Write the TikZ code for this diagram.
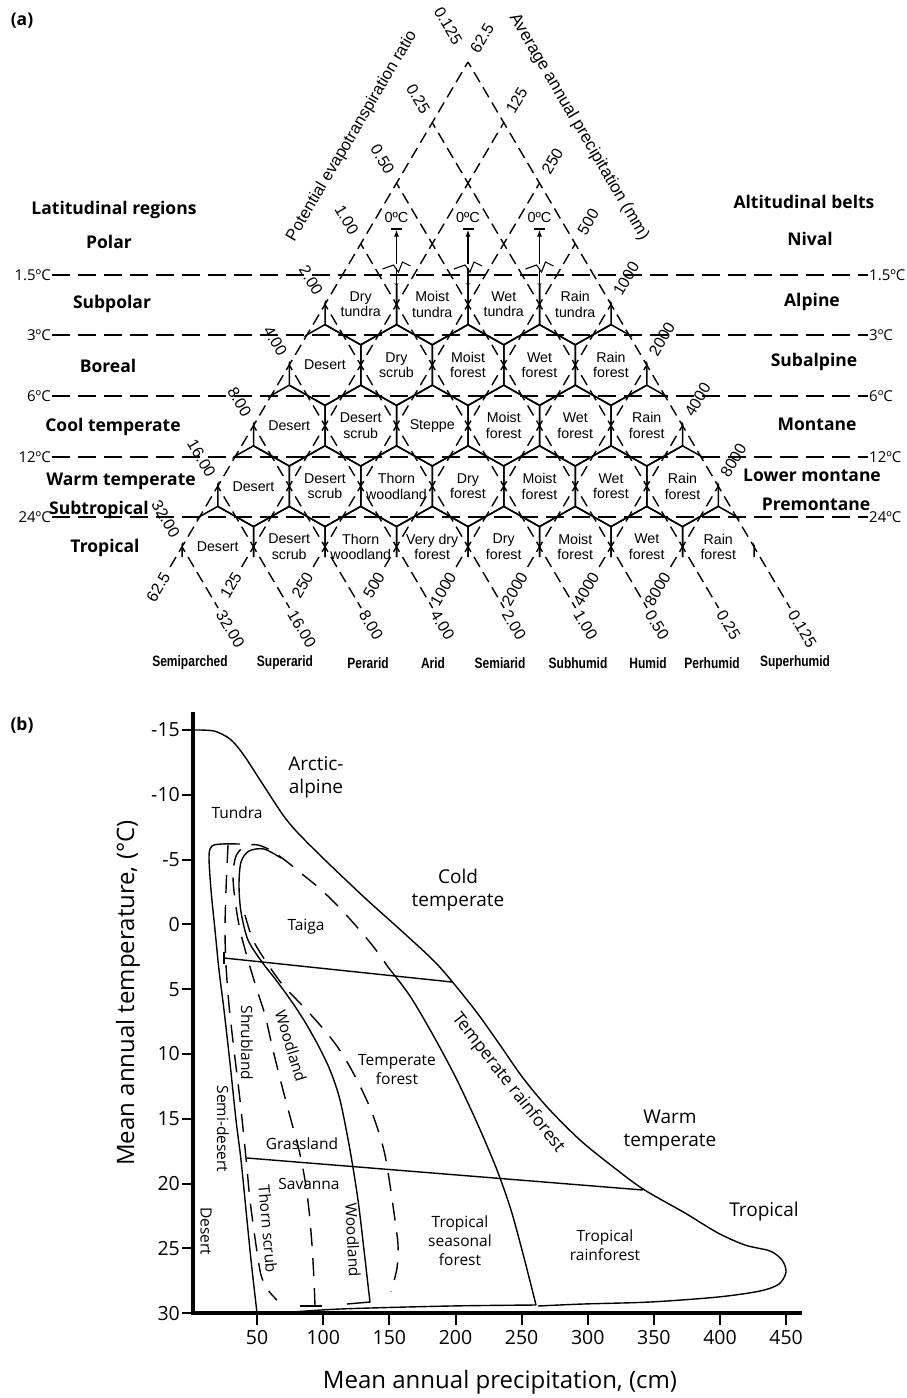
\documentclass[tikz,border=0pt]{standalone}
\usepackage{fontspec}
\setmainfont{Liberation Sans}
\newfontfamily\osans{Open Sans}
\newfontfamily\narrowb{Liberation Sans}[FakeStretch=0.8]
\usetikzlibrary{arrows.meta}
\newcommand\HexLab[3]{\node[hexlab] (hx-#1-#2) at ({468-(3+#1)*35.75+71.5*#2},{62+60.6*(4+#1)}) {#3};}
\begin{document}
\begin{tikzpicture}[x=1pt,y=-1pt,
  hexlab/.style={font=\fontsize{14.2}{15.5}\selectfont, align=center, inner sep=0pt},
  gridln/.style={line width=1.4pt, dash pattern=on 11.59pt off 6pt, dash phase=5.8pt},
  hline/.style={line width=1.9pt, dash pattern=on 18pt off 8pt},
  hexe/.style={line width=1.5pt},
  edgelab/.style={font=\fontsize{16}{17}\selectfont, inner sep=1pt},
  zlab/.style={font=\fontsize{14.5}{15}\selectfont, inner sep=1pt},
  tlab/.style={font=\osans\fontsize{15}{16}\selectfont, inner sep=1pt},
  reglab/.style={font=\osans\bfseries\fontsize{17.5}{18}\selectfont, inner sep=0pt},
  botlab/.style={font=\narrowb\bfseries\fontsize{15}{16}\selectfont, inner sep=0pt},
  curve/.style={line width=1.4pt},
  dcurve/.style={line width=1.4pt, dash pattern=on 18pt off 12pt},
  blab/.style={font=\osans\fontsize{15.5}{19}\selectfont, align=center, inner sep=0pt},
  biglab/.style={font=\osans\fontsize{19}{23}\selectfont, align=center, inner sep=0pt},
  ticklab/.style={font=\osans\fontsize{19.5}{20}\selectfont, inner sep=0pt},
  axtitle/.style={font=\osans\fontsize{24}{26}\selectfont, inner sep=0pt},
]
\useasboundingbox (0,0) rectangle (906,1398);

%% ================= PANEL (a) =================
\node[reglab] (pa) at (22,21) {(a)};

% hexagons (clipped to triangle)
\begin{scope}
\clip (335.6,283.5) -- (600.4,283.5) -- (762,557) -- (174,557) -- cycle;
\foreach \i in {0,...,4}{
  \pgfmathtruncatemacro\n{3+\i}
  \foreach \k in {0,...,\n}{
    \pgfmathsetmacro\cx{468-(3+\i)*35.75+71.5*\k}
    \pgfmathsetmacro\cy{62+60.6*(4+\i)}
    \draw[hexe] (\cx,\cy-40.4) -- (\cx+35.75,\cy-20.2) -- (\cx+35.75,\cy+20.2) -- (\cx,\cy+40.4) -- (\cx-35.75,\cy+20.2) -- (\cx-35.75,\cy-20.2) -- cycle;
  }
}
\end{scope}

% PET lines (down-right) with labels
\foreach \r/\v in {0/0.125,1/0.25,2/0.50,3/1.00,4/2.00,5/4.00,6/8.00,7/16.00,8/32.00}{
  \pgfmathsetmacro\xs{468-35.75*\r}
  \pgfmathsetmacro\ys{62+60.6*\r}
  \pgfmathsetmacro\xe{\xs+(608-\ys)/60.6*35.75}
  \coordinate (P\r) at (\xs,\ys);
  \coordinate (PE\r) at (\xe,608);
  \draw[gridln] (P\r) -- (PE\r);
  \node[edgelab, rotate=-59.5, anchor=west] (pb\r) at ([shift={(1.5,2.6)}]PE\r) {\v};
}
\foreach \r/\v in {1/0.25,2/0.50,3/1.00,4/2.00,5/4.00,6/8.00,7/16.00,8/32.00}{
  \node[edgelab, rotate=-59.5, anchor=east] (pl\r) at ([shift={(-5.5,-9.5)}]P\r) {\v};
}
\node[edgelab, rotate=-59.5, anchor=east] (pl0) at (459,44) {0.125};

% precipitation lines (down-left) with labels
\foreach \r/\v in {0/62.5,1/125,2/250,3/500,4/1000,5/2000,6/4000,7/8000}{
  \pgfmathsetmacro\xs{468+35.75*\r}
  \pgfmathsetmacro\ys{62+60.6*\r}
  \pgfmathsetmacro\xe{\xs-(570-\ys)/60.6*35.75}
  \coordinate (Q\r) at (\xs,\ys);
  \coordinate (QE\r) at (\xe,570);
  \draw[gridln] (Q\r) -- (QE\r);
  \node[edgelab, rotate=59.5, anchor=east] (qb\r) at ([shift={(-1.5,2.6)}]QE\r) {\v};
  \node[edgelab, rotate=59.5, anchor=west] (qr\r) at ([shift={(5.5,-9.5)}]Q\r) {\v};
}

% axis titles of the triangle
\node[font=\fontsize{16.5}{17}\selectfont, rotate=59.5] (pet) at (352,136) {Potential evapotranspiration ratio};
\node[font=\fontsize{17}{18}\selectfont, rotate=-59.5] (aap) at (579,127) {Average annual precipitation (mm)};

% 0 C arrows
\foreach \x [count=\j] in {396.5,468,539.5}{
  \draw[hexe] (\x,285) -- (\x,268);
  \draw[hexe,-{Latex[length=7pt,width=5pt]}] (\x,264) -- (\x,229.5);
  \draw[hexe] (\x-5.5,229) -- (\x+5.5,229);
  \draw[line width=1.1pt] (\x-14,269) -- (\x-3,265) -- (\x+2,272) -- (\x+6,262) -- (\x+14,266);
  \node[zlab] (zc\j) at (\x,217) {0ºC};
}

% horizontal temperature lines
\foreach \y/\t [count=\j] in {275/1.5,335/3,396/6,457/12,517/24}{
  \coordinate (HL\j) at (52,\y);
  \coordinate (HR\j) at (868,\y);
  \draw[hline] (HL\j) -- (HR\j);
  \node[tlab, anchor=east] (tl\j) at (HL\j) {\t ºC};
  \node[tlab, anchor=west] (tr\j) at (HR\j) {\t ºC};
}

% hexagon labels
\HexLab{0}{0}{Dry\\tundra}\HexLab{0}{1}{Moist\\tundra}\HexLab{0}{2}{Wet\\tundra}\HexLab{0}{3}{Rain\\tundra}
\HexLab{1}{0}{Desert}\HexLab{1}{1}{Dry\\scrub}\HexLab{1}{2}{Moist\\forest}\HexLab{1}{3}{Wet\\forest}\HexLab{1}{4}{Rain\\forest}
\HexLab{2}{0}{Desert}\HexLab{2}{1}{Desert\\scrub}\HexLab{2}{2}{Steppe}\HexLab{2}{3}{Moist\\forest}\HexLab{2}{4}{Wet\\forest}\HexLab{2}{5}{Rain\\forest}
\HexLab{3}{0}{Desert}\HexLab{3}{1}{Desert\\scrub}\HexLab{3}{2}{Thorn\\woodland}\HexLab{3}{3}{Dry\\forest}\HexLab{3}{4}{Moist\\forest}\HexLab{3}{5}{Wet\\forest}\HexLab{3}{6}{Rain\\forest}
\HexLab{4}{0}{Desert}\HexLab{4}{1}{Desert\\scrub}\HexLab{4}{2}{Thorn\\woodland}\HexLab{4}{3}{Very dry\\forest}\HexLab{4}{4}{Dry\\forest}\HexLab{4}{5}{Moist\\forest}\HexLab{4}{6}{Wet\\forest}\HexLab{4}{7}{Rain\\forest}

% region labels
\node[reglab] (lr) at (114,210) {Latitudinal regions};
\node[reglab] (l1) at (109,242) {Polar};
\node[reglab] (l2) at (112,304) {Subpolar};
\node[reglab] (l3) at (108,366) {Boreal};
\node[reglab] (l4) at (113,427) {Cool temperate};
\node[reglab] (l5) at (121,481) {Warm temperate};
\node[reglab] (l6) at (99,510) {Subtropical};
\node[reglab] (l7) at (105,548) {Tropical};
\node[reglab] (ab) at (804,202) {Altitudinal belts};
\node[reglab] (r1) at (810,239) {Nival};
\node[reglab] (r2) at (812,302) {Alpine};
\node[reglab] (r3) at (814,362) {Subalpine};
\node[reglab] (r4) at (817,424) {Montane};
\node[reglab] (r5) at (812,475) {Lower montane};
\node[reglab] (r6) at (816,504) {Premontane};

% humidity provinces
\foreach \x/\t [count=\j] in {190/Semiparched,285/Superarid,368/Perarid,433/Arid,500/Semiarid,578/Subhumid,648/Humid,712/Perhumid,795/Superhumid}{
  \node[botlab] (hp\j) at (\x,663) {\t};
}

%% ================= PANEL (b) =================
\node[reglab] (pbl) at (22,725) {(b)};

% axes
\draw[line width=3.2pt] (193,712) -- (193,1313) -- (802,1313);
\foreach \t in {-15,-10,...,30}{
  \pgfmathsetmacro\yy{730+(\t+15)*12.96}
  \draw[line width=2pt] (182,\yy) -- (193,\yy);
  \node[ticklab, anchor=east] at (180,\yy) {\t};
}
\foreach \p in {50,100,...,450}{
  \pgfmathsetmacro\xx{191+1.3225*\p}
  \draw[line width=2pt] (\xx,1313) -- (\xx,1325);
  \node[ticklab, anchor=north] at (\xx,1330) {\p};
}
\node[axtitle, rotate=90] (ytitle) at (128,993) {Mean annual temperature, (°C)};
\node[axtitle] (xtitle) at (500,1382) {Mean annual precipitation, (cm)};

% outer boundary
\draw[curve] plot[smooth,tension=0.5] coordinates {(193,730) (214,731) (230,739) (243,754) (262,783) (283,815) (298,833) (325,860) (365,898) (405,934) (435,962) (455,985) (478,1014) (500,1045) (523,1078) (548,1108) (580,1140) (612,1166) (643,1189) (685,1213) (718,1233) (745,1245) (770,1251) (782,1260) (786,1272) (779,1284) (760,1291) (718,1297) (650,1302) (583,1304) (538,1306)};
\draw[curve] plot[smooth] coordinates {(536,1305) (450,1306) (340,1309) (280,1313)};

% cross lines
\draw[curve] (224,958) -- (452,982);
\draw[curve] (247,1158) -- (643,1190);
\draw[curve] (224,952) -- (224,964);

% solid L1 (desert edge)
\draw[curve] plot[smooth,tension=0.5] coordinates {(240,844) (222,844) (212,846) (209,856) (211,890) (215,930) (219,970) (224,1010) (230,1063) (236,1120) (241,1160) (246,1210) (251,1260) (257,1313)};
% solid L2 (woodland edge)
\draw[curve] plot[smooth,tension=0.5] coordinates {(281,858) (264,849) (249,851) (241,862) (239,885) (241,912) (248,940) (262,962) (276,980) (292,1002) (305,1022) (318,1045) (330,1070) (340,1100) (350,1150) (358,1200) (364,1250) (368,1285) (370,1302)} -- (347,1304);
% solid L3 (tropical seasonal / rainforest)
\draw[curve] plot[smooth,tension=0.5] coordinates {(388,967) (410,996) (433,1035) (456,1078) (478,1125) (497,1170) (511,1210) (522,1250) (531,1285) (536,1305)};

% dashed DA (parallel to L1)
\draw[dcurve] plot[smooth,tension=0.5] coordinates {(228,845) (226,890) (225,930) (226,965) (229,1005) (234,1050) (240,1100) (246,1158) (250,1200) (256,1245) (261,1275) (268,1290) (277,1300)};
% dashed DD + hook + DC
\draw[dcurve] plot[smooth,tension=0.5] coordinates {(315,1306) (314,1280) (312,1245) (309,1210) (305,1180) (299,1150) (291,1120) (283,1090) (273,1050) (265,1015) (257,990) (248,960) (240,930) (235,900) (233,875) (236,856) (245,846) (258,845) (272,851) (286,861) (302,874) (318,887) (334,902) (349,918) (363,934) (376,950) (388,967)};
\draw[curve] (300,1306) -- (322,1306);
% dashed DB (temperate forest edge)
\draw[dcurve] plot[smooth,tension=0.5] coordinates {(245,915) (253,940) (267,963) (282,984) (297,1000) (312,1016) (326,1032) (339,1049) (350,1067) (361,1088) (371,1110) (379,1133) (385,1155) (390,1185) (395,1220) (398,1245) (397,1268) (391,1292)};

% labels
\node[biglab] (arc) at (316,777) {Arctic-\\alpine};
\node[blab] (tun) at (237,813) {Tundra};
\node[biglab] (cold) at (458,890) {Cold\\temperate};
\node[blab] (tai) at (306,927) {Taiga};
\node[blab, rotate=-90] (shr) at (247,1043) {Shrubland};
\node[blab, rotate=-73] (wd1) at (291,1046) {Woodland};
\node[blab] (tf) at (397,1070) {Temperate\\forest};
\node[blab, font=\osans\fontsize{17.5}{19}\selectfont, rotate=-52] (trf) at (508,1083) {Temperate rainforest};
\node[biglab] (warm) at (670,1130) {Warm\\temperate};
\node[blab, rotate=-90] (sd) at (223,1129) {Semi-desert};
\node[blab] (gr) at (302,1144) {Grassland};
\node[blab] (sav) at (309,1184) {Savanna};
\node[blab, rotate=-85] (ts) at (268,1229) {Thorn scrub};
\node[blab, rotate=-87] (wd2) at (353,1240) {Woodland};
\node[blab, rotate=-90] (des) at (206,1231) {Desert};
\node[blab] (tsf) at (460,1241) {Tropical\\seasonal\\forest};
\node[blab] (trr) at (605,1245) {Tropical\\rainforest};
\node[biglab] (trop) at (764,1212) {Tropical};
\end{tikzpicture}
\end{document}
